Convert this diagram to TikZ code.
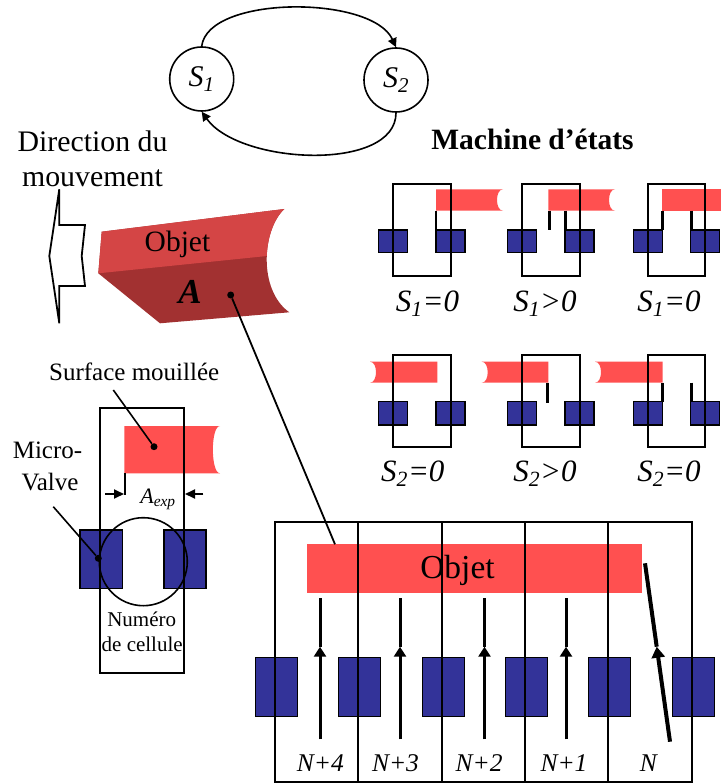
\documentclass[tikz,border=0pt]{standalone}
\usepackage{fontspec}
\setmainfont{Liberation Serif}
\usetikzlibrary{arrows.meta}
\definecolor{valveblue}{HTML}{333399}
\definecolor{objred}{HTML}{FF5050}
\definecolor{objtop}{HTML}{D44545}
\definecolor{objfront}{HTML}{A23131}
\newcommand\setfs[1]{\fontsize{#1}{#1}\selectfont}
% red bar whose right end is hollowed: #1 left x, #2 right x, #3 top y, #4 bottom y
\newcommand\barcutright[4]{\fill[objred] (#1,#3) -- (#2,#3) .. controls (#2-8,#3) and (#2-8,#4) .. (#2,#4) -- (#1,#4) -- cycle;}
% red bar whose left end is hollowed
\newcommand\barcutleft[4]{\fill[objred] (#2,#3) -- (#1,#3) .. controls (#1+8,#3) and (#1+8,#4) .. (#1,#4) -- (#2,#4) -- cycle;}
% the two valves of one cell: #1 left x, #2 top y, #3 bottom y, #4 valve top, #5 valve bottom
\newcommand\statecell[5]{%
  \draw[valve] (#1-14.5,#4) rectangle (#1+14.5,#5);
  \draw[valve] (#1+57.3-14.5,#4) rectangle (#1+57.3+14.5,#5);
}
\newcommand\cellframe[3]{\draw[outline] (#1,#2) rectangle (#1+57.3,#3);}
\begin{document}
\begin{tikzpicture}[x=1pt,y=-1pt,
  outline/.style={draw=black, line width=1.8pt},
  valve/.style={fill=valveblue, draw=black, line width=1.3pt},
  stub/.style={draw=black, line width=2.8pt},
  flow/.style={draw=black, line width=3pt},
  uptip/.style={-{Triangle[length=10pt,width=12pt]}},
  lbl/.style={inner sep=0pt, anchor=base},
  state/.style={circle, draw=black, line width=1.6pt, minimum size=64pt, inner sep=0pt, font=\setfs{30}},
  dot/.style={circle, fill=black, inner sep=0pt, minimum size=7pt},
  trans/.style={line width=1.6pt, -{Triangle[length=9pt,width=9pt]}},
]
\useasboundingbox (0,0) rectangle (721,783);

% ---------- state machine ----------
\node[state] (S1) at (201.7,79) {\textit{S\textsubscript{1}}};
\node[state] (S2) at (396,80) {\textit{S\textsubscript{2}}};
\draw[trans] (S1.north) .. controls (208,-5) and (372,-5) .. (S2.north);
\draw[trans] (S2.south) .. controls (396,172) and (240,165) .. (S1.south);
\node[lbl, font=\setfs{29.5}\bfseries] (title) at (532.5,150) {Machine d’états};

% ---------- direction of motion ----------
\node[lbl, font=\setfs{29.8}] (dir1) at (92.5,151.7) {Direction du};
\node[lbl, font=\setfs{29.8}] (dir2) at (92.5,186.7) {mouvement};
\draw[line width=1.8pt, fill=white] (59.3,189.3) -- (59.3,225) -- (85,225) -- (81.7,256)
  -- (85,286) -- (59.3,286) -- (59.3,323.3) -- (49.3,256) -- cycle;

% ---------- the moving object in perspective ----------
\begin{scope}
  \path[clip] (101.7,231.7) -- (284.3,209) .. controls (262,230) and (258,290) .. (289.3,312.3)
    -- (160,323.3) -- (98.3,273.3) -- cycle;
  \fill[objfront] (90,200) rectangle (300,330);
  \fill[objtop] (90,200) -- (300,200) -- (300,252.6) -- (98.3,273.3) -- (90,274) -- cycle;
\end{scope}
\node[lbl, font=\setfs{29.5}] (objtxt) at (177.5,251.7) {Objet};
\node[lbl, font=\setfs{35}\bfseries\itshape] (Atxt) at (190,303.3) {A};
\node[dot] (adot) at (230.7,295) {};

% ---------- state cells, row S1 ----------
\statecell{393.3}{184}{276}{230}{252.7}
\statecell{522.3}{184}{276}{230}{252.7}
\statecell{647.7}{184}{276}{230}{252.7}
\barcutright{436}{503}{189.3}{210.7}
\barcutright{548.3}{615}{189.3}{210.7}
\fill[objred] (661.7,189.3) rectangle (721,210.7);
\draw[stub] (436,210.7) -- (436,230);
\draw[stub] (549.3,210.7) -- (549.3,230);
\draw[stub] (565.5,210.7) -- (565.5,230);
\draw[stub] (662.3,210.7) -- (662.3,230);
\draw[stub] (691.7,210.7) -- (691.7,230);
\cellframe{393.3}{184}{276}
\cellframe{522.3}{184}{276}
\cellframe{647.7}{184}{276}
\node[lbl, font=\setfs{31}] (r1a) at (427.5,311) {\textit{S\textsubscript{1}=0}};
\node[lbl, font=\setfs{31}] (r1b) at (545,311) {\textit{S\textsubscript{1}>0}};
\node[lbl, font=\setfs{31}] (r1c) at (669,311) {\textit{S\textsubscript{1}=0}};

% ---------- state cells, row S2 ----------
\statecell{393.3}{355}{446.7}{401.7}{425}
\statecell{522.3}{355}{446.7}{401.7}{425}
\statecell{647.7}{355}{446.7}{401.7}{425}
\barcutleft{370}{437.3}{361.7}{382.7}
\barcutleft{481.7}{548.3}{361.7}{382.7}
\barcutleft{595}{662.7}{361.7}{382.7}
\draw[stub] (547.7,382.7) -- (547.7,402.7);
\draw[stub] (662.3,382.7) -- (662.3,401.7);
\draw[stub] (691.7,382.7) -- (691.7,401.7);
\cellframe{393.3}{355}{446.7}
\cellframe{522.3}{355}{446.7}
\cellframe{647.7}{355}{446.7}
\node[lbl, font=\setfs{31}] (r2a) at (412.8,481) {\textit{S\textsubscript{2}=0}};
\node[lbl, font=\setfs{31}] (r2b) at (545,481) {\textit{S\textsubscript{2}>0}};
\node[lbl, font=\setfs{31}] (r2c) at (669,481) {\textit{S\textsubscript{2}=0}};

% ---------- single cell in detail ----------
\draw[valve] (80,530) rectangle (122.7,588.3);
\draw[valve] (164,530) rectangle (206,588.3);
\fill[objred] (124.3,426) -- (220,426) .. controls (210.5,426) and (210.5,473.3) .. (220,473.3) -- (124.3,473.3) -- cycle;
\draw[outline] (100,408.3) rectangle (184.3,673.3);
\draw[line width=1.6pt] (143.3,561.7) circle[radius=44pt];
\draw[stub, line width=2.4pt] (125,473.3) -- (125,495);
\coordinate (aLs) at (105,494);
\coordinate (aLe) at (124,494);
\coordinate (aRs) at (203.3,494);
\coordinate (aRe) at (185,494);
\draw[line width=1.8pt, -{Triangle[length=10pt,width=9pt]}] (aLs) -- (aLe);
\draw[line width=1.8pt, -{Triangle[length=10pt,width=9pt]}] (aRs) -- (aRe);
\node[lbl, font=\setfs{22}] (aexp) at (158,503.3) {\textit{A\textsubscript{exp}}};
\node[lbl, font=\setfs{25}] (surf) at (134.2,380.7) {Surface mouillée};
\node[dot] (sdot) at (154,446.7) {};
\coordinate (sfrom) at (113.3,390);
\draw[line width=1.6pt] (sfrom) -- (sdot);
\node[lbl, font=\setfs{25}] (mv1) at (47.5,458.3) {Micro-};
\node[lbl, font=\setfs{25}] (mv2) at (50,490.7) {Valve};
\node[dot] (mvdot) at (98.3,558.3) {};
\coordinate (mvfrom) at (53.3,506.7);
\draw[line width=1.6pt] (mvfrom) -- (mvdot);
\node[lbl, font=\setfs{21}] (num1) at (141.7,626.7) {Numéro};
\node[lbl, font=\setfs{21}] (num2) at (142.2,651.7) {de cellule};

% ---------- row of cells under the object ----------
\foreach \cx in {276.5,359.8,443.2,526.5,609.8,693.2}
  \draw[valve] (\cx-21,657.3) rectangle (\cx+21,716.3);
\fill[objred] (306.7,544.3) rectangle (642.3,592.7);
\draw[outline] (275,521.7) rectangle (691.7,782.3);
\foreach \dx in {358.3,441.7,525,608.3}
  \draw[outline] (\dx,521.7) -- (\dx,782.3);
\node[lbl, font=\setfs{33.5}] (objbar) at (457.5,578.3) {Objet};
\coordinate (barhit) at (335,544.3);
\draw[line width=1.8pt] (adot) -- (barhit);
\foreach \ax/\nm in {320/a4,400/a3,484.5/a2,566/a1}{
  \coordinate (\nm-b) at (\ax,739.3);
  \coordinate (\nm-m) at (\ax,646.7);
  \coordinate (\nm-t) at (\ax,598.3);
  \draw[flow, uptip] (\nm-b) -- (\nm-m);
  \draw[flow] (\nm-m) -- (\nm-t);
}
\coordinate (a0-b) at (670,741.7);
\coordinate (a0-m) at (656.7,646.7);
\coordinate (a0-t) at (645,563.3);
\draw[flow, line width=4pt, -{Triangle[length=11pt,width=13pt]}] (a0-b) -- (a0-m);
\draw[flow, line width=4pt] (a0-m) -- (a0-t);
\node[lbl, font=\setfs{25.5}\itshape] (n4) at (320.3,771.7) {N+4};
\node[lbl, font=\setfs{25.5}\itshape] (n3) at (395.5,771.7) {N+3};
\node[lbl, font=\setfs{25.5}\itshape] (n2) at (479.2,771.7) {N+2};
\node[lbl, font=\setfs{25.5}\itshape] (n1) at (564,771.7) {N+1};
\node[lbl, font=\setfs{25.5}\itshape] (n0) at (648.3,771.7) {N};
\end{tikzpicture}
\end{document}
